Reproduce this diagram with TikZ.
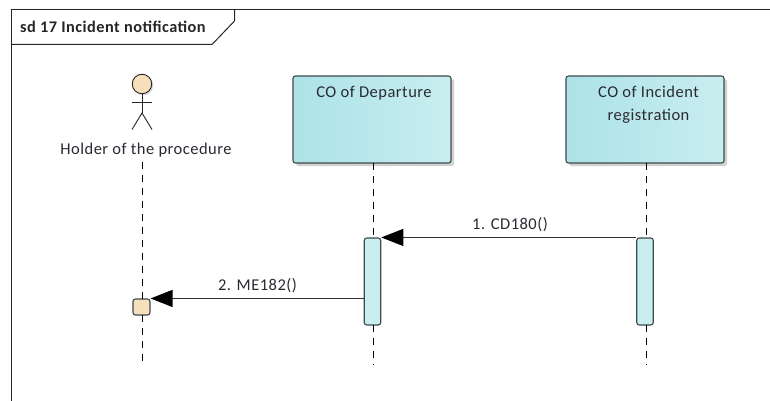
\documentclass[tikz,border=0pt]{standalone}
\usepackage{fontspec}
\setmainfont[LetterSpace=3]{Carlito}
\usetikzlibrary{arrows.meta,shadows,calc}
\definecolor{boxleft}{HTML}{ACE2E7}
\definecolor{boxright}{HTML}{C9EEF0}
\definecolor{actfill}{HTML}{C8EEF0}
\definecolor{holder}{HTML}{F8DFBC}
\definecolor{edgegrey}{HTML}{3F4A4C}
\definecolor{txt}{HTML}{2A2A33}
\tikzset{
  x=1pt,y=-1pt,
  lbl/.style={font=\fontsize{16.5}{23}\selectfont,text=txt,inner sep=0pt},
  lifebox/.style={draw=edgegrey,line width=1.1pt,rounded corners=2.5pt,left color=boxleft,right color=boxright,
    minimum width=158pt,minimum height=87pt,inner sep=0pt,
    drop shadow={shadow xshift=3pt,shadow yshift=-3pt,fill=black!30,opacity=.6}},
  actbar/.style={draw=edgegrey,line width=1.1pt,rounded corners=2.5pt,fill=actfill,minimum width=16.5pt,minimum height=87pt,inner sep=0pt},
  focus/.style={draw=edgegrey,line width=1.1pt,rounded corners=2.5pt,fill=holder,minimum width=17pt,minimum height=16pt,inner sep=0pt},
  lifeline/.style={black,line width=1pt,dash pattern=on 7pt off 6pt},
  msg/.style={draw=black!80,line width=1.2pt,-{Triangle[length=22pt,width=17pt,fill=black,color=black]}},
  stick/.style={black!85,line width=.9pt},
}
\begin{document}
\begin{tikzpicture}
\useasboundingbox (0,0) rectangle (770,401);
\fill[white] (0,0) rectangle (770,401);
% frame
\node[anchor=west,inner sep=0pt,font=\fontsize{16.3}{19}\bfseries\selectfont,text=black!85] (title) at (20,27) {sd 17 Incident notification};
\draw[black!85,line width=1pt] (11,401) -- (11,10) -- (770,10);
\draw[black!85,line width=1pt] (11,44.5) -- (212,44.5) -- (234.5,21) -- (234.5,10);
% actor
\node[circle,draw=black!85,line width=.9pt,fill=holder,minimum size=19.5pt,inner sep=0pt,
  drop shadow={shadow xshift=1.5pt,shadow yshift=-1.5pt,fill=black!30,opacity=.5}] (head) at (142,84) {};
\coordinate (hip) at (142,113);
\draw[stick] (head.south) -- (hip);
\draw[stick] (132,102.5) -- (152,102.5);
\draw[stick] (132,129.5) -- (hip) -- (152,129.5);
\node[lbl] (holdername) at (146,150) {Holder of the procedure};
% lifeline heads
\node[lifebox] (dep) at (372,119.5) {};
\node[lbl] (deplabel) at (374,93.5) {CO of Departure};
\node[lifebox] (reg) at (645,119.5) {};
\node[lbl,align=center] (reglabel) at (648.5,105) {CO of Incident\\registration};
% activations
\node[actbar] (actD) at (372.5,281.5) {};
\node[actbar] (actR) at (645,281.5) {};
\node[focus] (focusH) at (141.5,307) {};
% lifelines
\coordinate (endH) at (142,362);
\coordinate (endD) at (373.5,365);
\coordinate (endR) at (646,365);
\draw[lifeline] (142,161.5) -- (142,299);
\draw[lifeline] (142,315) -- (endH);
\draw[lifeline] (373.5,163) -- (373.5,238);
\draw[lifeline] (373.5,325) -- (endD);
\draw[lifeline] (646,163) -- (646,238);
\draw[lifeline] (646,325) -- (endR);
% messages
\draw[msg] (actR.north west) -- (actD.north east);
\draw[msg] (actD.west |- focusH.north) -- (focusH.north east);
\node[lbl] (m1) at (510,224.5) {1. CD180()};
\node[lbl] (m2) at (257.5,286) {2. ME182()};
\end{tikzpicture}
\end{document}
